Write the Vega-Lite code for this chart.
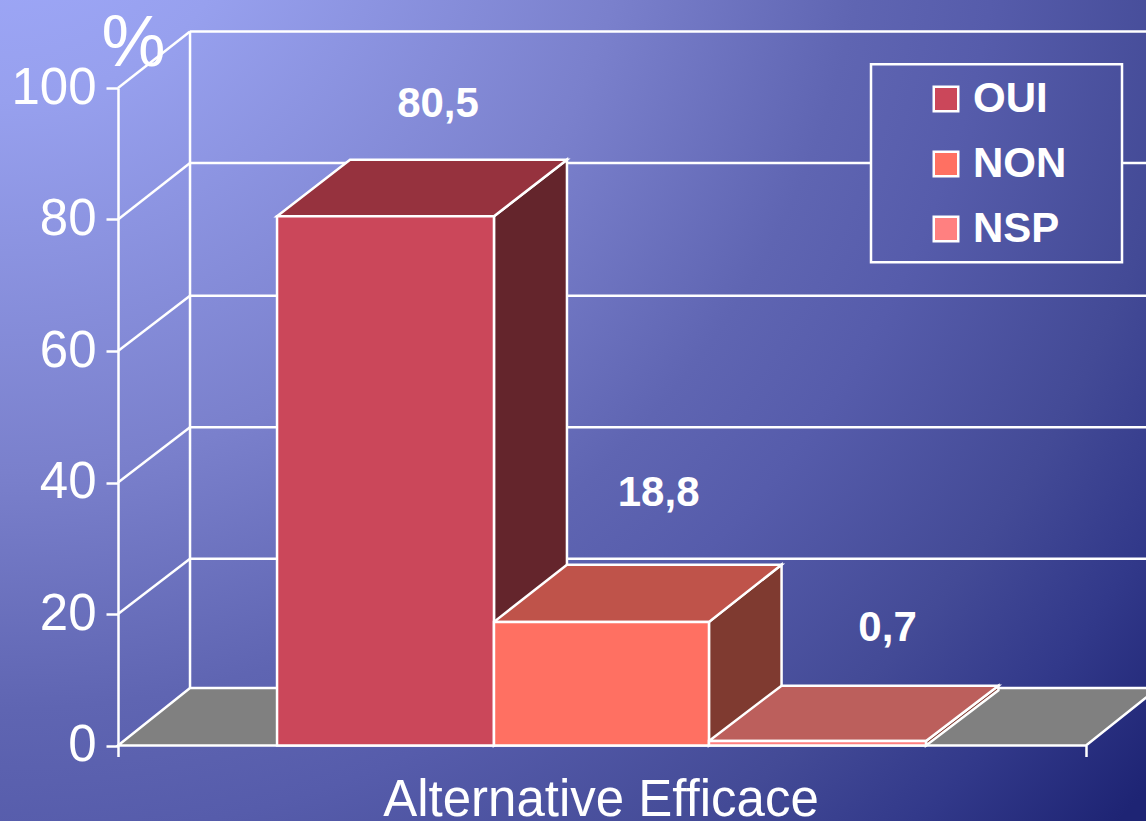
{
"$schema":"https://vega.github.io/schema/vega-lite/v6.json",
"width":1146,"height":821,"padding":0,"autosize":{"type":"none"},
"background":"#5b60b0",
"config":{"font":"Liberation Sans","view":{"stroke":null,"fill":{"gradient":"radial","x1":0,"y1":0,"r1":0,"x2":0,"y2":0,"r2":1.3,"stops":[{"offset":0,"color":"#a2acff"},{"offset":0.177,"color":"#97a0ee"},{"offset":0.426,"color":"#7a80cc"},{"offset":0.585,"color":"#5f65b2"},{"offset":0.674,"color":"#565cab"},{"offset":0.813,"color":"#434a96"},{"offset":0.901,"color":"#32398a"},{"offset":1,"color":"#1e2474"}]}}},
"datasets":{
"faces":[
{"face":"Sol","x":0,"y":0,"y2":0},{"face":"Sol","x":7.44,"y":8.75,"y2":0},{"face":"Sol","x":100,"y":8.75,"y2":0},{"face":"Sol","x":107.44,"y":8.75,"y2":8.75},
{"face":"OUI côté","x":38.84,"y":80.5,"y2":0},{"face":"OUI côté","x":46.38,"y":89.1,"y2":8.6},
{"face":"OUI dessus","x":16.43,"y":80.5,"y2":80.5},{"face":"OUI dessus","x":23.97,"y":89.1,"y2":80.5},{"face":"OUI dessus","x":38.84,"y":89.1,"y2":80.5},{"face":"OUI dessus","x":46.38,"y":89.1,"y2":89.1},
{"face":"NON côté","x":61.05,"y":18.8,"y2":0},{"face":"NON côté","x":68.55,"y":27.5,"y2":8.7},
{"face":"NON dessus","x":38.84,"y":18.8,"y2":18.8},{"face":"NON dessus","x":46.38,"y":27.5,"y2":18.8},{"face":"NON dessus","x":61.05,"y":27.5,"y2":18.8},{"face":"NON dessus","x":68.55,"y":27.5,"y2":27.5},
{"face":"NSP côté","x":83.47,"y":0.7,"y2":0},{"face":"NSP côté","x":90.95,"y":9.1,"y2":8.4},
{"face":"NSP dessus","x":61.05,"y":0.7,"y2":0.7},{"face":"NSP dessus","x":68.55,"y":9.1,"y2":0.7},{"face":"NSP dessus","x":83.47,"y":9.1,"y2":0.7},{"face":"NSP dessus","x":90.95,"y":9.1,"y2":9.1}
],
"frame":[
{"x":7.44,"x2":7.44,"y":8.75,"y2":108.6},
{"x":7.44,"x2":107.44,"y":28.4,"y2":28.4},{"x":7.44,"x2":107.44,"y":48.4,"y2":48.4},{"x":7.44,"x2":107.44,"y":68.4,"y2":68.4},
{"x":7.44,"x2":77.79,"y":88.6,"y2":88.6},{"x":103.72,"x2":107.44,"y":88.6,"y2":88.6},
{"x":7.44,"x2":107.44,"y":108.6,"y2":108.6},
{"x":0,"x2":7.44,"y":20,"y2":28.4},{"x":0,"x2":7.44,"y":40,"y2":48.4},{"x":0,"x2":7.44,"y":60,"y2":68.4},{"x":0,"x2":7.44,"y":80,"y2":88.6},{"x":0,"x2":7.44,"y":100,"y2":108.6}
],
"bars":[
{"serie":"OUI","x0":16.43,"x1":38.84,"valeur":80.5},
{"serie":"NON","x0":38.84,"x1":61.05,"valeur":18.8},
{"serie":"NSP","x0":61.05,"x1":83.47,"valeur":0.7}
],
"labels":[
{"texte":"80,5","x":33.06,"y":97.55},{"texte":"18,8","x":55.85,"y":38.45},{"texte":"0,7","x":79.5,"y":17.85}
]
},
"encoding":{
"x":{"type":"quantitative","scale":{"domain":[0,100],"range":[118,1086],"nice":false,"zero":false}},
"y":{"type":"quantitative","scale":{"domain":[0,100],"range":[745.5,88],"nice":false,"zero":false}}
},
"layer":[
{"data":{"name":"frame"},"mark":{"type":"rule","color":"white","strokeWidth":2.5},
 "encoding":{"x":{"field":"x","type":"quantitative","axis":{"values":[0,100],"labels":false,"domain":false,"grid":false,"offset":-75.5,"tickSize":11,"tickWidth":2.5,"tickColor":"white","title":"Alternative Efficace","titleColor":"white","titleFontSize":51,"titleFontWeight":"normal","titlePadding":18,"titleX":600.5}},
 "x2":{"field":"x2"},
 "y":{"field":"y","type":"quantitative","axis":{"values":[0,20,40,60,80,100],"grid":false,"offset":-118,"domainColor":"white","domainWidth":2.5,"tickColor":"white","tickWidth":2.5,"tickSize":12,"labelColor":"white","labelFontSize":51,"labelPadding":10,"title":null}},
 "y2":{"field":"y2"}}},
{"data":{"name":"faces"},"mark":{"type":"area","stroke":"white","strokeWidth":2.5,"opacity":1,"fillOpacity":1},
 "encoding":{"x":{"field":"x","type":"quantitative"},"y":{"field":"y","type":"quantitative"},"y2":{"field":"y2"},
 "color":{"field":"face","type":"nominal","legend":null,"scale":{"domain":["Sol","OUI côté","OUI dessus","NON côté","NON dessus","NSP côté","NSP dessus"],"range":["#808080","#64252C","#96323E","#7F3A30","#BF534A","#7F3A30","#BC5F5C"]}}}},
{"data":{"name":"bars"},"mark":{"type":"rect","stroke":"white","strokeWidth":2.5},
 "encoding":{"x":{"field":"x0","type":"quantitative"},"x2":{"field":"x1"},"y":{"field":"valeur","type":"quantitative"},"y2":{"datum":0},
 "color":{"field":"serie","type":"nominal","scale":{"domain":["OUI","NON","NSP"],"range":["#CB475A","#FF7062","#FF8080"]},
 "legend":{"orient":"none","legendX":925,"legendY":78,"title":null,"symbolType":"square","symbolSize":600,"symbolStrokeColor":"white","symbolStrokeWidth":2.5,"labelColor":"white","labelFontSize":42,"labelFontWeight":"bold","labelOffset":6,"rowPadding":23,"padding":0,"labelLimit":300}}}},
{"data":{"values":[{"x":77.79,"x2":103.72,"y":73.5,"y2":103.6}]},"mark":{"type":"rect","fillOpacity":0,"fill":"white","stroke":"white","strokeWidth":2.5},
 "encoding":{"x":{"field":"x","type":"quantitative"},"x2":{"field":"x2"},"y":{"field":"y","type":"quantitative"},"y2":{"field":"y2"}}},
{"data":{"name":"labels"},"mark":{"type":"text","color":"white","fontSize":42,"fontWeight":"bold"},
 "encoding":{"x":{"field":"x","type":"quantitative"},"y":{"field":"y","type":"quantitative"},"text":{"field":"texte"}}},
{"data":{"values":[{"x":1.6,"y":106.7,"texte":"%"}]},"mark":{"type":"text","color":"white","fontSize":72},
 "encoding":{"x":{"field":"x","type":"quantitative"},"y":{"field":"y","type":"quantitative"},"text":{"field":"texte"}}}
],
"resolve":{"scale":{"color":"independent"}}
}
